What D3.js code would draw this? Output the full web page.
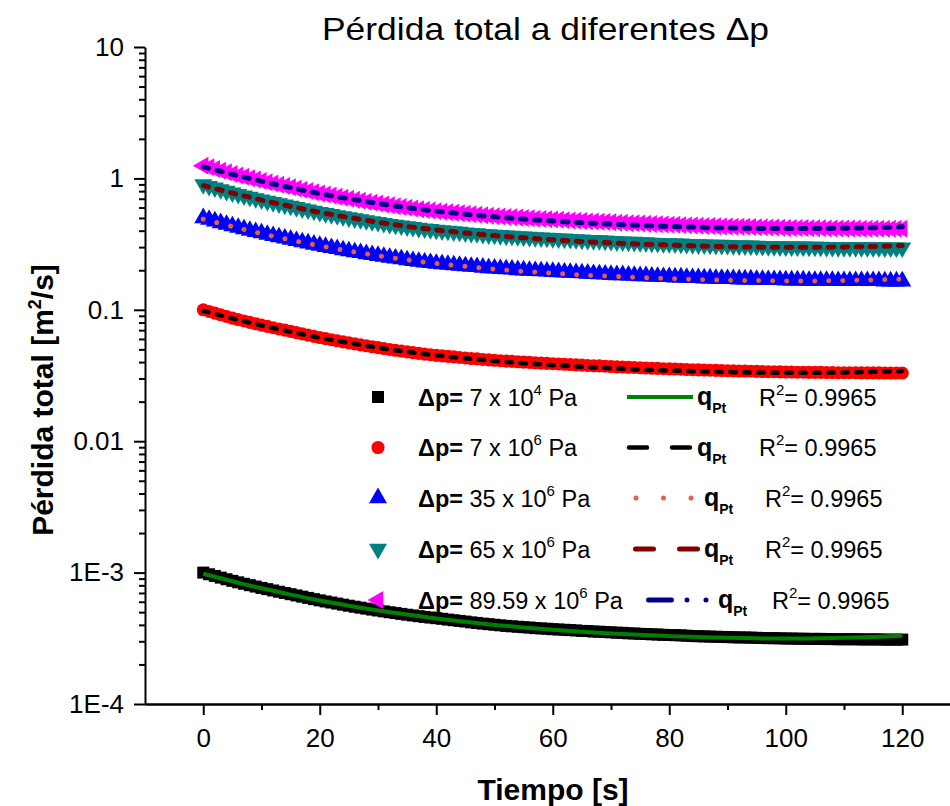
<!DOCTYPE html>
<html>
<head>
<meta charset="utf-8">
<script src="https://cdn.jsdelivr.net/npm/d3@7"></script>
<style>
  body { margin: 0; background: #ffffff; }
  svg { display: block; }
</style>
</head>
<body>
<svg id="chart" width="950" height="806"></svg>
<script>
// Sample times [s]
const timeS = [0,1,2,3,4,5,6,7,8,9,10,11,12,13,14,15,16,17,18,19,20,21,22,23,24,25,26,27,28,29,30,
  31,32,33,34,35,36,37,38,39,40,41,42,43,44,45,46,47,48,49,50,51,52,53,54,55,56,57,58,59,60,
  61,62,63,64,65,66,67,68,69,70,71,72,73,74,75,76,77,78,79,80,81,82,83,84,85,86,87,88,89,90,
  91,92,93,94,95,96,97,98,99,100,101,102,103,104,105,106,107,108,109,110,111,112,113,114,115,116,117,118,119,120];

// Measured total loss [m^2/s], one array per pressure difference
const lossDp7e4 = [1.00e-3,9.71e-4,9.43e-4,9.16e-4,8.90e-4,8.65e-4,8.43e-4,8.22e-4,8.02e-4,7.83e-4,7.65e-4,
  7.48e-4,7.31e-4,7.15e-4,7.00e-4,6.85e-4,6.70e-4,6.56e-4,6.42e-4,6.28e-4,6.15e-4,
  6.03e-4,5.92e-4,5.81e-4,5.70e-4,5.60e-4,5.50e-4,5.41e-4,5.32e-4,5.23e-4,5.15e-4,
  5.07e-4,4.99e-4,4.92e-4,4.85e-4,4.78e-4,4.72e-4,4.66e-4,4.60e-4,4.55e-4,4.50e-4,
  4.45e-4,4.39e-4,4.34e-4,4.29e-4,4.24e-4,4.18e-4,4.14e-4,4.09e-4,4.05e-4,4.01e-4,
  3.97e-4,3.93e-4,3.90e-4,3.87e-4,3.84e-4,3.82e-4,3.78e-4,3.76e-4,3.74e-4,3.71e-4,
  3.69e-4,3.67e-4,3.65e-4,3.63e-4,3.60e-4,3.59e-4,3.56e-4,3.55e-4,3.53e-4,3.51e-4,
  3.49e-4,3.48e-4,3.45e-4,3.44e-4,3.42e-4,3.41e-4,3.39e-4,3.38e-4,3.36e-4,3.35e-4,
  3.34e-4,3.33e-4,3.31e-4,3.29e-4,3.28e-4,3.27e-4,3.26e-4,3.25e-4,3.24e-4,3.23e-4,
  3.22e-4,3.21e-4,3.21e-4,3.20e-4,3.19e-4,3.18e-4,3.17e-4,3.17e-4,3.16e-4,3.15e-4,
  3.15e-4,3.14e-4,3.14e-4,3.13e-4,3.13e-4,3.13e-4,3.12e-4,3.12e-4,3.11e-4,3.11e-4,
  3.11e-4,3.11e-4,3.10e-4,3.10e-4,3.10e-4,3.10e-4,3.09e-4,3.09e-4,3.09e-4,3.09e-4];

const lossDp7e6 = [0.1,0.0971,0.0943,0.0916,0.0890,0.0865,0.0843,0.0822,0.0802,0.0783,0.0765,
  0.0748,0.0731,0.0715,0.0700,0.0685,0.0670,0.0656,0.0642,0.0628,0.0615,
  0.0603,0.0592,0.0581,0.0570,0.0560,0.0550,0.0541,0.0532,0.0523,0.0515,
  0.0507,0.0499,0.0492,0.0485,0.0478,0.0472,0.0466,0.0460,0.0455,0.0450,
  0.0446,0.0442,0.0438,0.0434,0.0430,0.0426,0.0423,0.0419,0.0416,0.0413,
  0.0410,0.0407,0.0405,0.0402,0.0400,0.0398,0.0395,0.0393,0.0391,0.0389,
  0.0387,0.0385,0.0383,0.0381,0.0379,0.0377,0.0375,0.0374,0.0372,0.0370,
  0.0368,0.0367,0.0365,0.0364,0.0362,0.0361,0.0359,0.0358,0.0356,0.0355,
  0.0354,0.0353,0.0351,0.0350,0.0349,0.0348,0.0347,0.0346,0.0345,0.0344,
  0.0343,0.0342,0.0342,0.0341,0.0340,0.0339,0.0338,0.0338,0.0337,0.0336,
  0.0336,0.0335,0.0335,0.0334,0.0334,0.0334,0.0333,0.0333,0.0332,0.0332,
  0.0332,0.0332,0.0331,0.0331,0.0331,0.0331,0.0330,0.0330,0.0330,0.0330];

const lossDp35e6 = [0.500,0.486,0.472,0.458,0.445,0.433,0.422,0.411,0.401,0.392,0.383,
  0.374,0.366,0.358,0.350,0.343,0.335,0.328,0.321,0.314,0.308,
  0.302,0.296,0.291,0.285,0.280,0.275,0.271,0.266,0.262,0.258,
  0.254,0.250,0.246,0.243,0.239,0.236,0.233,0.230,0.228,0.225,
  0.223,0.221,0.219,0.217,0.215,0.213,0.212,0.210,0.208,0.207,
  0.205,0.204,0.203,0.201,0.200,0.199,0.198,0.197,0.196,0.195,
  0.194,0.193,0.192,0.191,0.190,0.189,0.188,0.187,0.186,0.185,
  0.184,0.184,0.183,0.182,0.181,0.181,0.180,0.179,0.178,0.178,
  0.177,0.177,0.176,0.175,0.175,0.174,0.174,0.173,0.173,0.172,
  0.172,0.171,0.171,0.171,0.170,0.170,0.169,0.169,0.169,0.168,
  0.168,0.168,0.168,0.167,0.167,0.167,0.167,0.167,0.166,0.166,
  0.166,0.166,0.166,0.166,0.166,0.166,0.165,0.165,0.165,0.165];

const lossDp65e6 = [0.900,0.874,0.849,0.824,0.801,0.779,0.759,0.740,0.722,0.705,0.689,
  0.673,0.658,0.644,0.630,0.617,0.603,0.590,0.578,0.565,0.554,
  0.543,0.533,0.523,0.513,0.504,0.495,0.487,0.479,0.471,0.464,
  0.456,0.449,0.443,0.437,0.430,0.425,0.419,0.414,0.410,0.405,
  0.401,0.398,0.394,0.391,0.387,0.383,0.381,0.377,0.374,0.372,
  0.369,0.366,0.365,0.362,0.360,0.358,0.356,0.354,0.352,0.350,
  0.348,0.347,0.345,0.343,0.341,0.339,0.338,0.337,0.335,0.333,
  0.331,0.330,0.329,0.328,0.326,0.325,0.323,0.322,0.320,0.320,
  0.319,0.318,0.316,0.315,0.314,0.313,0.312,0.311,0.311,0.310,
  0.309,0.308,0.308,0.307,0.306,0.305,0.304,0.304,0.303,0.302,
  0.302,0.302,0.302,0.301,0.301,0.301,0.300,0.300,0.299,0.299,
  0.299,0.299,0.298,0.298,0.298,0.298,0.297,0.297,0.297,0.297];

const lossDp8959e6 = [1.250,1.214,1.179,1.145,1.113,1.081,1.054,1.028,1.003,0.979,0.956,
  0.935,0.914,0.894,0.875,0.856,0.838,0.820,0.803,0.785,0.769,
  0.754,0.740,0.726,0.713,0.700,0.688,0.676,0.665,0.654,0.644,
  0.634,0.624,0.615,0.606,0.598,0.590,0.583,0.575,0.569,0.563,
  0.558,0.553,0.548,0.543,0.538,0.533,0.529,0.524,0.520,0.516,
  0.513,0.509,0.506,0.503,0.500,0.498,0.494,0.491,0.489,0.486,
  0.484,0.481,0.479,0.476,0.474,0.471,0.469,0.468,0.465,0.463,
  0.460,0.459,0.456,0.455,0.453,0.451,0.449,0.448,0.445,0.444,
  0.443,0.441,0.439,0.438,0.436,0.435,0.434,0.433,0.431,0.430,
  0.429,0.428,0.428,0.426,0.425,0.424,0.423,0.423,0.421,0.420,
  0.420,0.419,0.419,0.418,0.418,0.418,0.416,0.416,0.415,0.415,
  0.415,0.415,0.414,0.414,0.414,0.414,0.413,0.413,0.413,0.413];

// Fitted model q_Pt, evaluated every 5 s
const fitTimeS = [0,5,10,15,20,25,30,35,40,45,50,55,60,65,70,75,80,85,90,95,100,105,110,115,120];
const fitDp7e4 = [9.8e-4,8.6e-4,7.6e-4,6.8e-4,6.13e-4,5.6e-4,5.15e-4,4.79e-4,4.48e-4,4.22e-4,4.0e-4,3.82e-4,
  3.67e-4,3.54e-4,3.44e-4,3.36e-4,3.29e-4,3.23e-4,3.19e-4,3.16e-4,3.15e-4,3.16e-4,3.19e-4,3.24e-4,3.31e-4];
const fitDp7e6 = [0.098,0.086,0.076,0.068,0.0613,0.056,0.0515,0.0479,0.045,0.0427,0.0408,0.0392,
  0.0379,0.0368,0.0359,0.0351,0.0345,0.0340,0.0336,0.0333,0.0332,0.0332,0.0334,0.0337,0.0342];
const fitDp35e6 = [0.49,0.43,0.38,0.34,0.307,0.28,0.258,0.240,0.225,0.214,0.204,0.196,
  0.190,0.184,0.180,0.176,0.173,0.170,0.168,0.167,0.166,0.166,0.167,0.169,0.171];
const fitDp65e6 = [0.882,0.774,0.684,0.612,0.552,0.504,0.464,0.431,0.405,0.384,0.367,0.353,
  0.341,0.331,0.323,0.316,0.311,0.306,0.302,0.300,0.299,0.299,0.301,0.303,0.308];
const fitDp8959e6 = [1.225,1.075,0.95,0.85,0.766,0.70,0.644,0.599,0.563,0.534,0.51,0.49,
  0.474,0.46,0.449,0.439,0.431,0.425,0.42,0.416,0.415,0.415,0.418,0.421,0.428];

// Axis ticks and legend texts
const xTicks = [0, 20, 40, 60, 80, 100, 120];
const xMinorTicks = [10, 30, 50, 70, 90, 110, 130];
const yTicks = [10, 1, 0.1, 0.01, 1e-3, 1e-4];
const yTickLabels = ["10", "1", "0.1", "0.01", "1E-3", "1E-4"];
const legendMantissa = ["7", "7", "35", "65", "89.59"];
const legendExponent = ["4", "6", "6", "6", "6"];
const fitR2 = ["0.9965", "0.9965", "0.9965", "0.9965", "0.9965"];

// ---- series styling ----
const series = [
  { data: lossDp7e4,   fit: fitDp7e4,   symbol: d3.symbolSquare,   rot: 0,   size: 144, color: "#000000",
    fitColor: "#008000", fitWidth: 4,   fitDash: null, legDash: null, legX: 627, legEnd: 693, qX: 697, rX: 759 },
  { data: lossDp7e6,   fit: fitDp7e6,   symbol: d3.symbolCircle,   rot: 0,   size: 135, color: "#ff0000",
    fitColor: "#000000", fitWidth: 4.5, fitDash: "5.5 8.5", legDash: "18 25", legX: 629, legEnd: 693, qX: 697, rX: 759 },
  { data: lossDp35e6,  fit: fitDp35e6,  symbol: d3.symbolTriangle, rot: 0,   size: 140, color: "#0000ff",
    fitColor: "#ec5f3e", fitWidth: 5,   fitDash: "0.01 14", legDash: "0.01 27.5", legX: 636, legEnd: 693, qX: 704, rX: 765 },
  { data: lossDp65e6,  fit: fitDp65e6,  symbol: d3.symbolTriangle, rot: 180, size: 140, color: "#008080",
    fitColor: "#800000", fitWidth: 5,   fitDash: "5.5 8.5", legDash: "18 26", legX: 635.5, legEnd: 699, qX: 704, rX: 765 },
  { data: lossDp8959e6, fit: fitDp8959e6, symbol: d3.symbolTriangle, rot: -90, size: 140, color: "#ff00ff",
    fitColor: "#000080", fitWidth: 5,   fitDash: "5.5 8.5", legDash: "23 15.5 0 19 0 60", legX: 648.5, legEnd: 707, qX: 718, rX: 772 }
];

const FONT = "Arial, 'Liberation Sans', Helvetica, sans-serif";
const svg = d3.select("#chart");

const x = d3.scaleLinear().domain([-10, 130]).range([145, 145 + 140 * 5.825]);
const y = d3.scaleLog().domain([1e-4, 10]).range([704, 47]);

// ---- markers and fitted curves ----
const plot = svg.append("g");
const fitLine = d3.line().x(d => x(d[0])).y(d => y(d[1])).curve(d3.curveCatmullRom.alpha(0.5));

series.forEach(s => {
  const pts = timeS.map((t, i) => [t, s.data[i]]);
  plot.append("g").selectAll("path")
    .data(pts).join("path")
    .attr("d", d3.symbol().type(s.symbol).size(s.size))
    .attr("transform", d => `translate(${x(d[0])},${y(d[1])}) rotate(${s.rot})`)
    .attr("fill", s.color);
  const fpts = fitTimeS.map((t, i) => [t, s.fit[i]]);
  plot.append("path")
    .attr("d", fitLine(fpts))
    .attr("fill", "none")
    .attr("stroke", s.fitColor)
    .attr("stroke-width", s.fitWidth)
    .attr("stroke-linecap", s.fitDash ? "round" : "butt")
    .attr("stroke-dasharray", s.fitDash);
});

// ---- axes ----
function styleAxis(g) {
  g.select(".domain").attr("stroke", "#000").attr("stroke-width", 2);
  g.selectAll(".tick line").attr("stroke", "#000").attr("stroke-width", 2);
  g.selectAll("text").attr("font-family", FONT).attr("fill", "#000");
}

const xAxis = svg.append("g").attr("transform", "translate(0,704)")
  .call(d3.axisBottom(x).tickValues(xTicks).tickSize(11).tickPadding(14).tickSizeOuter(0))
  .call(styleAxis);
xAxis.selectAll("text").attr("font-size", 26);
svg.append("g").attr("transform", "translate(0,704)")
  .call(d3.axisBottom(x).tickValues(xMinorTicks).tickSize(6).tickFormat("").tickSizeOuter(0))
  .call(styleAxis);

const yMinor = [];
for (let e = -4; e < 1; e++) for (let m = 2; m <= 9; m++) yMinor.push(m * Math.pow(10, e));
const yAxis = svg.append("g").attr("transform", "translate(145,0)")
  .call(d3.axisLeft(y).tickValues(yTicks).tickFormat((d, i) => yTickLabels[i]).tickSize(11).tickPadding(10).tickSizeOuter(0))
  .call(styleAxis);
yAxis.selectAll("text").attr("font-size", 26);
svg.append("g").attr("transform", "translate(145,0)")
  .call(d3.axisLeft(y).tickValues(yMinor).tickSize(6).tickFormat("").tickSizeOuter(0))
  .call(styleAxis)
  .select(".domain").remove();

// ---- titles ----
svg.append("text")
  .attr("x", 322).attr("y", 40)
  .attr("font-family", FONT).attr("font-size", 32)
  .attr("textLength", 447).attr("lengthAdjust", "spacingAndGlyphs")
  .text("Pérdida total a diferentes Δp");

svg.append("text")
  .attr("x", 553).attr("y", 800)
  .attr("text-anchor", "middle")
  .attr("font-family", FONT).attr("font-size", 30).attr("font-weight", "bold")
  .text("Tiempo [s]");

const yTitle = svg.append("text")
  .attr("transform", "translate(53,400) rotate(-90)")
  .attr("text-anchor", "middle")
  .attr("font-family", FONT).attr("font-size", 30).attr("font-weight", "bold");
yTitle.append("tspan").text("Pérdida total [m");
yTitle.append("tspan").attr("dy", -12).attr("font-size", 18).text("2");
yTitle.append("tspan").attr("dy", 12).text("/s]");

// ---- legend ----
const legend = svg.append("g");
const rowY = [397, 447.5, 498, 549, 600];
series.forEach((s, i) => {
  const yy = rowY[i];
  legend.append("path")
    .attr("d", d3.symbol().type(s.symbol).size(s.size))
    .attr("transform", `translate(378,${yy}) rotate(${s.rot})`)
    .attr("fill", s.color);

  const t = legend.append("text")
    .attr("x", 418).attr("y", yy + 8.5)
    .attr("font-family", FONT).attr("font-size", 23.5);
  t.append("tspan").attr("font-weight", "bold").text("Δp=");
  t.append("tspan").text(` ${legendMantissa[i]} x 10`);
  t.append("tspan").attr("dy", -11).attr("font-size", 15).text(legendExponent[i]);
  t.append("tspan").attr("dy", 11).text(" Pa");

  legend.append("line")
    .attr("x1", s.legX).attr("x2", s.legEnd)
    .attr("y1", yy).attr("y2", yy)
    .attr("stroke", s.fitColor)
    .attr("stroke-width", s.fitWidth)
    .attr("stroke-linecap", s.legDash ? "round" : "butt")
    .attr("stroke-dasharray", s.legDash);

  const q = legend.append("text")
    .attr("x", s.qX).attr("y", yy + 8)
    .attr("font-family", FONT).attr("font-size", 25).attr("font-weight", "bold");
  q.append("tspan").text("q");
  q.append("tspan").attr("dy", 8).attr("font-size", 14).text("Pt");

  const r = legend.append("text")
    .attr("x", s.rX).attr("y", yy + 8.5)
    .attr("font-family", FONT).attr("font-size", 23.5);
  r.append("tspan").text("R");
  r.append("tspan").attr("dy", -11).attr("font-size", 15).text("2");
  r.append("tspan").attr("dy", 11).text("= " + fitR2[i]);
});
</script>
</body>
</html>
